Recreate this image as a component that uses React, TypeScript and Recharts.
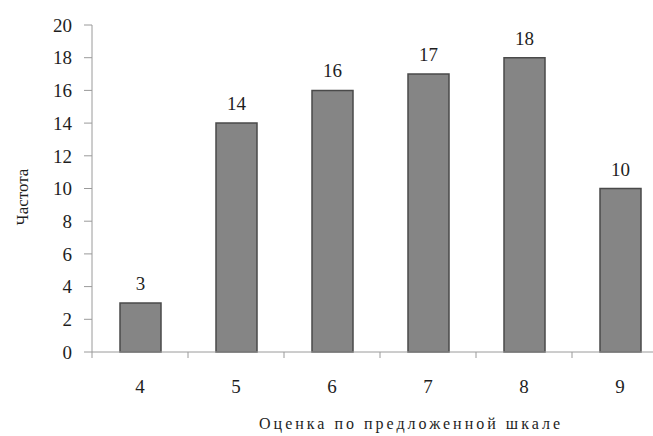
import React from "react";
import { BarChart, Bar, XAxis, YAxis, LabelList } from "recharts";

const categories = ["4", "5", "6", "7", "8", "9"];
const frequencies = [3, 14, 16, 17, 18, 10];
const yTicks = [0, 2, 4, 6, 8, 10, 12, 14, 16, 18, 20];
const yTitle = "Частота";
const xTitle = "Оценка по предложенной шкале";

const data = categories.map((c, i) => ({ category: c, value: frequencies[i] }));

const FONT = "Liberation Serif, DejaVu Serif, serif";
const TEXT = "#1e1e1e";
const AXIS = "#9a9a9a";

const XTick = (props: any) => {
  const { x, y, payload, index, width, visibleTicksCount } = props;
  const half =
    payload && typeof payload.offset === "number" && payload.offset > 0
      ? payload.offset
      : width / visibleTicksCount / 2;
  return (
    <g>
      <line x1={x + half} x2={x + half} y1={y} y2={y + 6} stroke={AXIS} strokeWidth={1} />
      {index === 0 && (
        <line x1={x - half} x2={x - half} y1={y} y2={y + 6} stroke={AXIS} strokeWidth={1} />
      )}
      <text x={x} y={y + 41} textAnchor="middle" style={{ fontFamily: FONT }} fontSize={19} fill={TEXT}>
        {payload.value}
      </text>
    </g>
  );
};

export default function App() {
  return (
    <div
      style={{
        position: "absolute",
        left: 0,
        top: 0,
        width: 653,
        height: 436,
        overflow: "hidden",
        background: "#fff",
        fontFamily: FONT,
      }}
    >
      <BarChart
        width={680}
        height={436}
        data={data}
        margin={{ top: 25, right: 12, bottom: 0, left: 0 }}
        style={{ fontFamily: FONT }}
      >
        <XAxis
          dataKey="category"
          height={84}
          tickLine={false}
          tickSize={0}
          tickMargin={0}
          axisLine={{ stroke: AXIS, strokeWidth: 1 }}
          tick={<XTick />}
          interval={0}
        />
        <YAxis
          width={92}
          domain={[0, 20]}
          ticks={yTicks}
          interval={0}
          tickSize={8}
          tickMargin={12}
          tickLine={{ stroke: AXIS, strokeWidth: 1 }}
          axisLine={{ stroke: AXIS, strokeWidth: 1 }}
          tick={{ style: { fontFamily: FONT }, fontSize: 19, fill: TEXT }}
        />
        <Bar
          dataKey="value"
          barSize={41}
          fill="#858585"
          stroke="#4a4a4a"
          strokeWidth={1.5}
          isAnimationActive={false}
        >
          <LabelList
            dataKey="value"
            position="top"
            offset={13}
            style={{ fontFamily: FONT, fontSize: 19, fill: TEXT }}
          />
        </Bar>
      </BarChart>
      <svg
        width={653}
        height={436}
        style={{ position: "absolute", left: 0, top: 0, pointerEvents: "none", fontFamily: FONT }}
      >
        <text
          x={22}
          y={197}
          transform="rotate(-90 22 197)"
          textAnchor="middle"
          dominantBaseline="central"
          fontSize={17}
          fill={TEXT}
        >
          {yTitle}
        </text>
        <text
          x={411}
          y={429}
          textAnchor="middle"
          fontSize={16}
          letterSpacing={3}
          fill={TEXT}
        >
          {xTitle}
        </text>
      </svg>
    </div>
  );
}
